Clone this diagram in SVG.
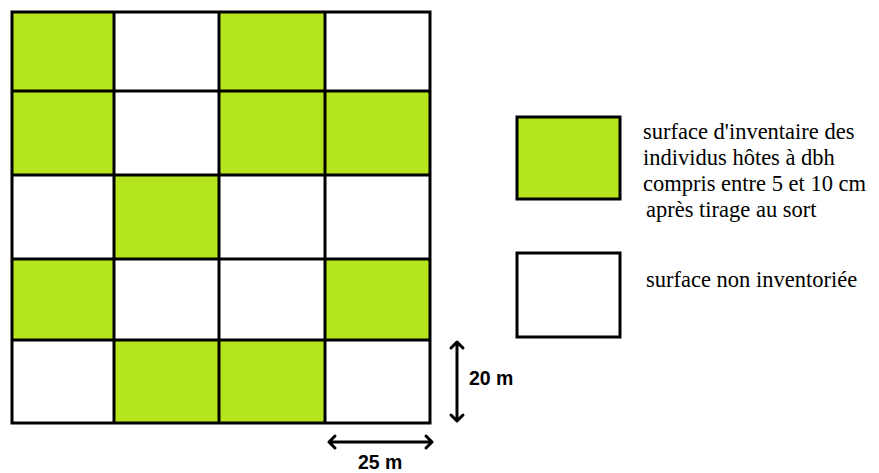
<svg xmlns="http://www.w3.org/2000/svg" width="879" height="473" viewBox="0 0 879 473">
<style>
.g{fill:#B5E61D}
.w{fill:#FFFFFF}
.ln{stroke:#000;stroke-width:3;fill:none}
.ar{stroke:#000;stroke-width:3;fill:none;stroke-linecap:round;stroke-linejoin:round}
.lg{font-family:"Liberation Serif","Times New Roman",serif;font-size:22.5px;fill:#000}
.dm{font-family:"Liberation Sans",Arial,sans-serif;font-size:19.5px;font-weight:bold;fill:#000}
</style>
<rect width="879" height="473" fill="#fff"/>
<g id="grid">
<rect class="g" x="12" y="12" width="102" height="79"/>
<rect class="g" x="219" y="12" width="106" height="79"/>
<rect class="g" x="12" y="91" width="102" height="84"/>
<rect class="g" x="219" y="91" width="106" height="84"/>
<rect class="g" x="325" y="91" width="105" height="84"/>
<rect class="g" x="114" y="175" width="105" height="84"/>
<rect class="g" x="12" y="259" width="102" height="81"/>
<rect class="g" x="325" y="259" width="105" height="81"/>
<rect class="g" x="114" y="340" width="105" height="83"/>
<rect class="g" x="219" y="340" width="106" height="83"/>
<rect class="ln" x="12" y="12" width="418" height="411"/>
<path class="ln" d="M114 12V423M219 12V423M325 12V423M12 91H430M12 175H430M12 259H430M12 340H430"/>
</g>
<g id="connectors">
<path class="ar" d="M457 342V421M451 348L457 342L463 348M451 415L457 421L463 415"/>
<path class="ar" d="M329 442H432M335 436L329 442L335 448M426 436L432 442L426 448"/>
</g>
<g id="dim-20"><text class="dm" x="469" y="385">20 m</text></g>
<g id="dim-25"><text class="dm" x="358" y="469">25 m</text></g>
<g id="legend-green">
<rect class="g" x="517" y="117" width="103" height="82" stroke="#000" stroke-width="3"/>
<text class="lg" x="643" y="139">surface d'inventaire des</text>
<text class="lg" x="643" y="165">individus hôtes à dbh</text>
<text class="lg" x="643" y="191">compris entre 5 et 10 cm</text>
<text class="lg" x="646" y="217" font-size="21.5">après tirage au sort</text>
</g>
<g id="legend-white">
<rect class="w" x="517" y="253" width="103" height="84" stroke="#000" stroke-width="3"/>
<text class="lg" x="646" y="287" font-size="20.6">surface non inventoriée</text>
</g>
</svg>
